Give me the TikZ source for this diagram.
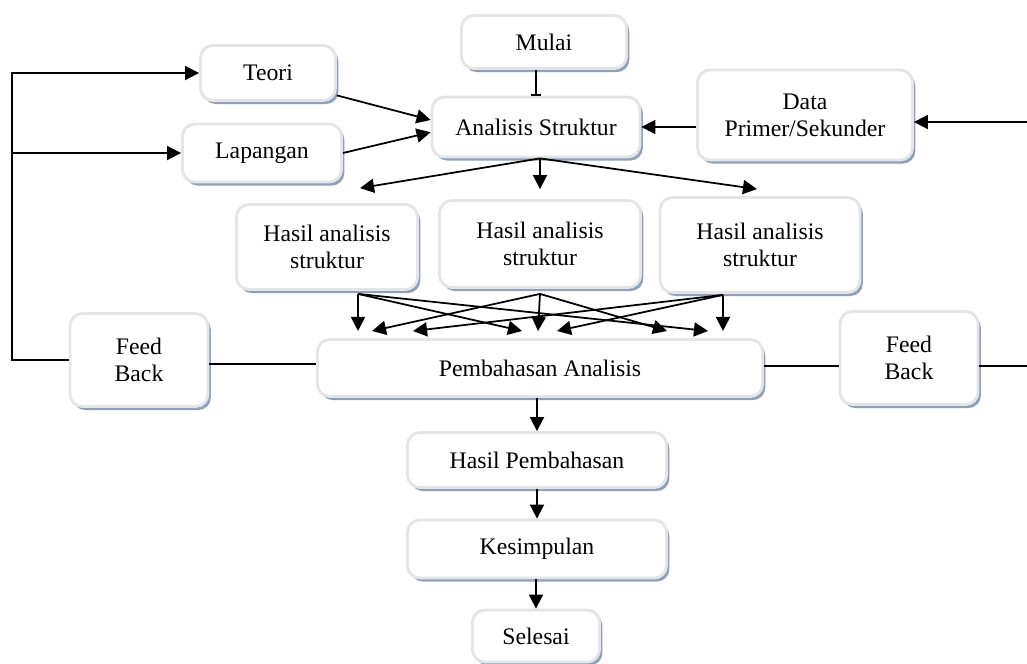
\documentclass[tikz,border=0pt]{standalone}
\usepackage{fontspec}
\setmainfont{Liberation Serif}
\usetikzlibrary{arrows.meta,positioning,shadows,calc}
\definecolor{shadowblue}{HTML}{8FA0B8}

\begin{document}
\begin{tikzpicture}[
    font=\fontsize{13.5}{15.5}\selectfont, line width=1pt,
    box/.style={draw=black!10,line width=1.6pt,fill=white,rounded corners=7pt,align=center,inner sep=4pt,
        drop shadow={shadow xshift=1.6pt,shadow yshift=-2pt,fill=shadowblue,opacity=1}},
    arrow/.style={-{Triangle[length=8pt,width=8pt]},line width=1pt},
    link/.style={line width=1pt}
]
\path[use as bounding box] (0,0) rectangle (20.54,-13.28);

% top row
\node[box,minimum width=3.3cm,minimum height=1.06cm] (mulai) at (10.88,-0.84) {Mulai};
\node[box,minimum width=2.7cm,minimum height=1.1cm] (teori) at (5.36,-1.46) {Teori};
\node[box,minimum width=3.18cm,minimum height=1.16cm] (lapangan) at (5.24,-3.06) {Lapangan};
\node[box,minimum width=4.16cm,minimum height=1.2cm] (analisis) at (10.72,-2.54) {Analisis Struktur};
\node[box,minimum width=4.3cm,minimum height=1.8cm] (data) at (16.1,-2.3) {Data\\Primer/Sekunder};

% hasil analisis
\node[box,minimum width=3.62cm,minimum height=1.7cm] (hasil1) at (6.54,-4.94) {Hasil analisis\\struktur};
\node[box,minimum width=4.02cm,minimum height=1.74cm] (hasil2) at (10.8,-4.88) {Hasil analisis\\struktur};
\node[box,minimum width=4.0cm,minimum height=1.9cm] (hasil3) at (15.2,-4.9) {Hasil analisis\\struktur};

% pembahasan and feed back
\node[box,minimum width=2.76cm,minimum height=1.86cm] (fbl) at (2.78,-7.2) {Feed\\Back};
\node[box,minimum width=8.9cm,minimum height=1.14cm] (bahas) at (10.8,-7.36) {Pembahasan Analisis};
\node[box,minimum width=2.76cm,minimum height=1.86cm] (fbr) at (18.18,-7.16) {Feed\\Back};

% bottom column
\node[box,minimum width=5.18cm,minimum height=1.1cm] (hbahas) at (10.74,-9.2) {Hasil Pembahasan};
\node[box,minimum width=5.18cm,minimum height=1.16cm] (simpul) at (10.74,-10.98) {Kesimpulan};
\node[box,minimum width=2.54cm,minimum height=1.04cm] (selesai) at (10.72,-12.72) {Selesai};

% feedback lines at the picture edges
\coordinate (ltop) at (0.24,-1.46);
\coordinate (rtop) at (20.54,-2.44);
\coordinate (rbot) at (20.54,-7.32);
\coordinate (fbline) at (0,-7.28);

\draw[arrow] (fbl.west) -| (ltop) -- (teori.west);
\draw[arrow] (ltop |- lapangan) -- (lapangan.west);
\draw[link] (fbl.east |- fbline) -- (bahas.west |- fbline);
\draw[link] (bahas.east |- rbot) -- (fbr.west |- rbot);
\draw[link] (fbr.east |- rbot) -- (rbot);
\draw[arrow] (rtop) -- (rtop -| data.east);

\draw[-{Bar[width=6pt]}] (analisis.north |- mulai.south) -- (analisis.north);
\draw[arrow] (data.west |- analisis) -- (analisis.east);
\draw[arrow] (teori.-18) -- ([yshift=4pt]analisis.west);
\draw[arrow] (lapangan.east) -- ([yshift=-3pt]analisis.west);

\draw[arrow] (analisis.south -| hasil2) -- ($(hasil1.north)+(0.66,0.3)$);
\draw[arrow] (analisis.south -| hasil2) -- ($(hasil2.north)+(0,0.2)$);
\draw[arrow] (analisis.south -| hasil2) -- ($(hasil3.north)+(-0.06,0.14)$);

% crossing arrows into the discussion
\coordinate (s1) at ($(hasil1.south)+(0.62,-0.06)$);
\coordinate (s2) at ($(hasil2.south)+(0,-0.1)$);
\coordinate (s3) at ($(hasil3.south)+(-0.74,-0.02)$);
\foreach \s/\x in {s1/7.16,s1/10.44,s1/14.16,s2/7.44,s2/10.76,s2/13.34,s3/8.26,s3/11.14,s3/14.46} {
    \coordinate (t) at (\x,-6.62);
    \draw[arrow] (\s) -- (t);
}

\draw[arrow] (bahas.south -| hbahas) -- (hbahas.north);
\draw[arrow] (hbahas) -- (simpul);
\draw[arrow] (simpul.south -| selesai) -- (selesai.north);
\end{tikzpicture}
\end{document}
